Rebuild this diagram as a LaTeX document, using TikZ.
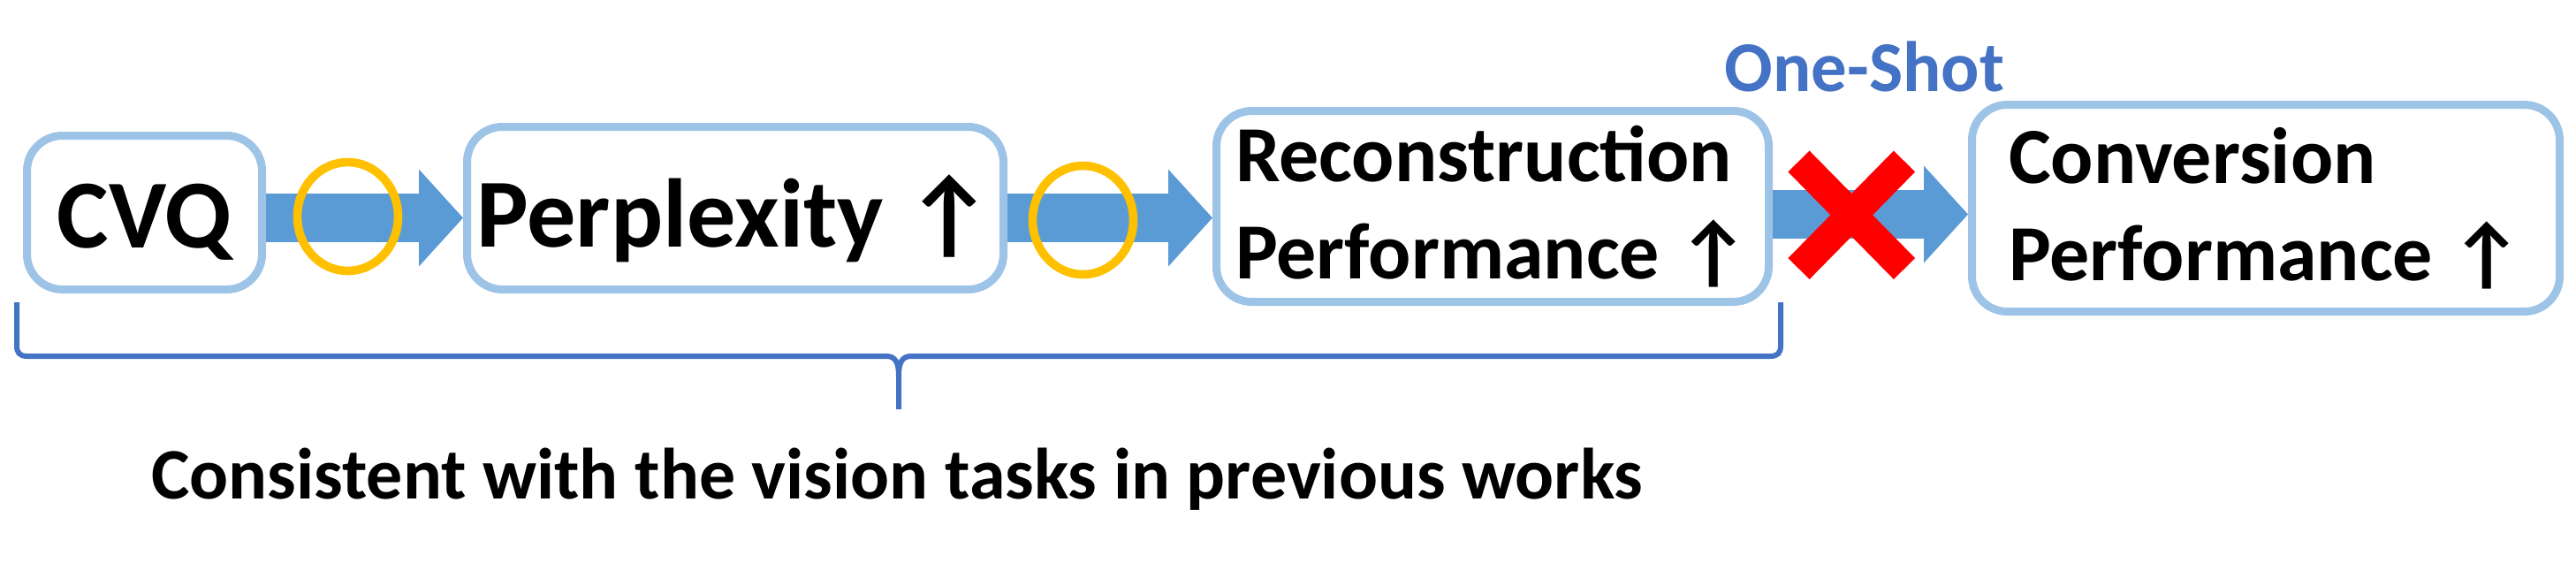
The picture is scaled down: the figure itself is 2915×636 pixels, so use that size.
\documentclass[tikz,border=0pt]{standalone}
\usepackage{fontspec}
\setmainfont{Carlito}
\usetikzlibrary{arrows.meta,shapes.geometric}
\definecolor{boxc}{HTML}{9DC3E6}
\definecolor{arrc}{HTML}{5B9BD5}
\definecolor{ringc}{HTML}{FFC000}
\definecolor{bracec}{HTML}{4472C4}
\begin{document}
\begin{tikzpicture}[x=0.25pt,y=-0.25pt,
  box/.style={draw=boxc, line width=2.25pt, rounded corners=10pt, fill=white, inner sep=0pt,
    font=\bfseries\fontsize{22.5}{27.5}\selectfont, align=left},
  bigbox/.style={box, font=\bfseries\fontsize{27.6}{33}\selectfont, text depth=0pt},
  bigarrow/.style={draw=arrc, line width=13.75pt, -{Triangle[length=12.5pt,width=27.5pt,line width=0pt,fill=arrc]}},
  ring/.style={ellipse, draw=ringc, line width=2.4pt, minimum width=28.5pt, minimum height=30.75pt, inner sep=0pt},
  cross/.style={draw=red, line width=8.5pt},
  brace/.style={draw=bracec, line width=1.5pt},
  label/.style={font=\bfseries\fontsize{20.2}{24}\selectfont, anchor=base, inner sep=0pt}]
\useasboundingbox (0,0) rectangle (2915,636);

% boxes
\node[bigbox, minimum width=66.5pt, minimum height=43.5pt, text height=19.75pt] (cvq) at (163.5,240.5) {CVQ};
\node[bigbox, minimum width=151.75pt, minimum height=46pt, text height=21.75pt] (perp) at (832,235.5) {Perplexity ↑};
\node[box, minimum width=156.25pt, minimum height=54pt] (recon) at (1689,233.5) {Reconstruction\\Performance ↑};
\node[box, minimum width=166.25pt, minimum height=58.5pt] (conv) at (2564,235.5) {Conversion\\Performance ↑};

% level coordinates for the block arrows
\coordinate (l1) at (0,246.5);
\coordinate (l3) at (0,242.5);

% block arrows
\draw[bigarrow] (cvq.east |- l1) -- (perp.west |- l1);
\draw[bigarrow] (perp.east |- l1) -- (recon.west |- l1);
\draw[bigarrow] (recon.east |- l3) -- (conv.west |- l3);

% rings
\node[ring] (r1) at (393.5,245) {};
\node[ring] (r2) at (1225.5,249) {};

% cross
\draw[cross] (2035.5,182.5) -- (2155,304);
\draw[cross] (2155,182.5) -- (2035.5,304);

% labels
\node[label, text=bracec] (oneshot) at (2110,103) {One-Shot};
\node[label, font=\bfseries\fontsize{20.5}{24}\selectfont] (cons) at (1015,564) {Consistent with the vision tasks in previous works};

% brace
\draw[brace] (19,342) -- (19,391) .. controls (19,399) and (22,403) .. (31,403) -- (1003,403)
  .. controls (1013,403) and (1017,410) .. (1017,425) -- (1017,463);
\draw[brace] (1017,425) .. controls (1017,410) and (1021,403) .. (1031,403) -- (2003,403)
  .. controls (2012,403) and (2015,399) .. (2015,391) -- (2015,342);
\end{tikzpicture}
\end{document}
